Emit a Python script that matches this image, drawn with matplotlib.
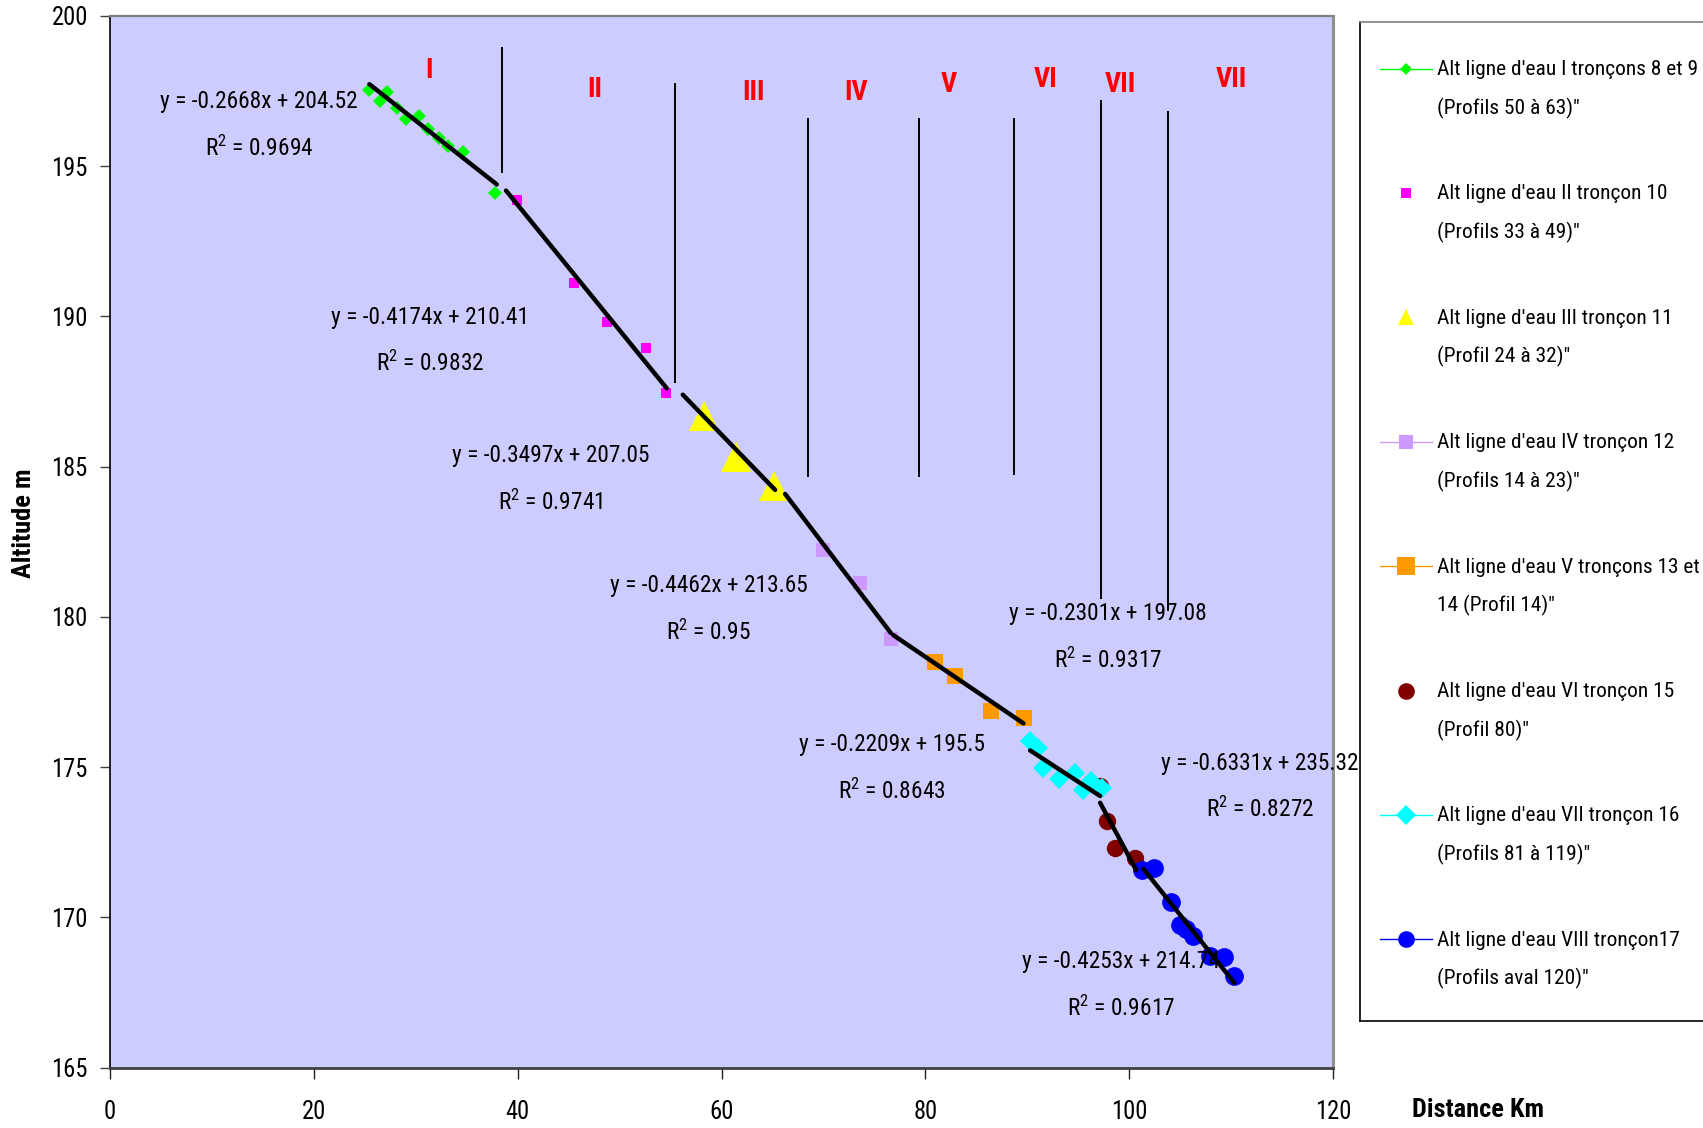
import matplotlib
matplotlib.use('Agg')
import matplotlib.pyplot as plt
from matplotlib import font_manager
from matplotlib.lines import Line2D

_installed = {f.name for f in font_manager.fontManager.ttflist}
_cands = ['Liberation Sans Narrow', 'Roboto Condensed', 'Open Sans Condensed',
          'DejaVu Sans Condensed', 'Liberation Sans', 'DejaVu Sans']
MAIN = [c for c in _cands if c in _installed][0]
FONT = [MAIN, 'DejaVu Sans']
plt.rcParams['font.family'] = FONT

# ---------------- data ----------------
km_I = [25.45, 26.5, 27.15, 28.13, 29.02, 30.35, 31.24, 32.29, 33.2, 34.67, 37.78]
alt_I = [197.54, 197.18, 197.48, 196.93, 196.56, 196.67, 196.23, 195.93, 195.68, 195.49, 194.10]
km_II = [39.91, 45.56, 48.80, 52.57, 54.53]
alt_II = [193.86, 191.13, 189.80, 188.94, 187.45]
km_III = [58.29, 61.43, 65.16]
alt_III = [186.69, 185.31, 184.36]
km_IV = [69.94, 73.60, 76.64]
alt_IV = [182.24, 181.13, 179.26]
km_V = [80.96, 82.92, 86.46, 89.70]
alt_V = [178.49, 178.02, 176.86, 176.62]
km_VI = [97.15, 97.87, 98.63, 100.59]
alt_VI = [174.36, 173.20, 172.31, 171.98]
km_VII = [90.28, 91.10, 91.59, 93.16, 94.70, 95.45, 96.24, 97.32]
alt_VII = [175.86, 175.64, 174.97, 174.61, 174.81, 174.25, 174.53, 174.31]
km_VIII = [101.24, 102.45, 104.09, 105.0, 105.6, 106.31, 107.95, 109.26, 110.33]
alt_VIII = [171.59, 171.65, 170.50, 169.76, 169.6, 169.37, 168.71, 168.69, 168.04]

series_labels = [
    ("Alt ligne d'eau I tronçons 8 et 9", "(Profils 50 à 63)\""),
    ("Alt ligne d'eau II tronçon 10", "(Profils 33 à 49)\""),
    ("Alt ligne d'eau III tronçon 11", "(Profil 24 à 32)\""),
    ("Alt ligne d'eau IV tronçon 12", "(Profils 14 à 23)\""),
    ("Alt ligne d'eau V tronçons 13 et", "14 (Profil 14)\""),
    ("Alt ligne d'eau VI tronçon 15", "(Profil 80)\""),
    ("Alt ligne d'eau VII tronçon 16", "(Profils 81 à 119)\""),
    ("Alt ligne d'eau VIII tronçon17", "(Profils aval 120)\""),
]

# linear trendlines (slope, intercept, x range)
trend_slope = [-0.2668, -0.4174, -0.3497, -0.4462, -0.2301, -0.2209, -0.6331, -0.4253]
trend_icpt = [204.52, 210.41, 207.05, 213.65, 197.08, 195.5, 235.32, 214.74]
trend_from = [25.45, 38.86, 56.2, 66.24, 76.84, 90.28, 97.15, 101.4]
trend_to = [37.95, 54.63, 65.26, 76.61, 89.63, 97.15, 100.69, 110.33]
trend_r2 = ["0.9694", "0.9832", "0.9741", "0.95", "0.9317", "0.8643", "0.8272", "0.9617"]
eq_km = [14.6, 31.44, 43.27, 58.72, 97.89, 76.73, 112.86, 99.2]
eq_alt = [196.94, 189.75, 185.16, 180.82, 179.91, 175.54, 174.92, 168.30]
r2_alt = [195.35, 188.19, 183.57, 179.23, 178.30, 173.95, 173.33, 166.71]

# section separators and names
sep_km = [38.5, 55.45, 68.5, 79.35, 88.67, 97.26, 103.85]
sep_top = [198.96, 197.78, 196.62, 196.62, 196.62, 197.22, 196.85]
sep_bottom = [194.79, 187.80, 184.67, 184.67, 184.73, 180.6, 180.2]
sec_names = ["I", "II", "III", "IV", "V", "VI", "VII", "VII"]
sec_km = [31.3, 47.6, 63.16, 73.2, 82.26, 91.8, 99.12, 110.0]
sec_alt = [198.2, 197.56, 197.44, 197.44, 197.72, 197.9, 197.72, 197.9]

x_ticks = [0, 20, 40, 60, 80, 100, 120]
y_ticks = [165, 170, 175, 180, 185, 190, 195, 200]

# ---------------- styles ----------------
styles = [
    dict(color='#00FF00', marker='D', ms=7.0, leg_ms=6.5, leg_line=True),
    dict(color='#FF00FF', marker='s', ms=7.4, leg_ms=7.5, leg_line=False),
    dict(color='#FFFF00', marker='^', ms=22, leg_ms=12, leg_line=False),
    dict(color='#CC99FF', marker='s', ms=9.4, leg_ms=9.5, leg_line=True),
    dict(color='#FF9900', marker='s', ms=12, leg_ms=13, leg_line=True),
    dict(color='#800000', marker='o', ms=12.5, leg_ms=12, leg_line=False),
    dict(color='#00FFFF', marker='D', ms=10, leg_ms=10.5, leg_line=True),
    dict(color='#0000FF', marker='o', ms=13.5, leg_ms=12, leg_line=True),
]
series = [(km_I, alt_I), (km_II, alt_II), (km_III, alt_III), (km_IV, alt_IV),
          (km_V, alt_V), (km_VI, alt_VI), (km_VII, alt_VII), (km_VIII, alt_VIII)]

W, H = 1703, 1128
fig = plt.figure(figsize=(W / 100, H / 100), dpi=100)
fig.patch.set_facecolor('white')
renderer = fig.canvas.get_renderer()


def fit_size(s, target_px, weight='normal', cap=None):
    t = fig.text(0, 0, s, fontsize=10, fontweight=weight)
    w = t.get_window_extent(renderer=renderer).width
    t.remove()
    size = 10.0 * target_px / w
    if cap is not None:
        size = min(size, cap)
    return size


FS_LEG = fit_size("Alt ligne d'eau I tronçons 8 et 9", 259, cap=19)
FS_EQ = fit_size("y = -0.2668x + 204.52", 196, cap=19)
FS_TICK = min(19.0, 0.5 * (fit_size("200", 32) + 19.5))
FS_SEC = min(22.0, 0.5 * (fit_size("VII", 27, weight='bold') + 23))
FS_TITLE = fit_size("Distance Km", 132, weight='bold', cap=21)

ax = fig.add_axes([110 / W, 1 - 1067.6 / H, (1333 - 110) / W, (1067.6 - 16) / H])
ax.set_facecolor('#CCCCFF')
ax.set_xlim(0, 120)
ax.set_ylim(165, 200)
ax.set_xticks(x_ticks)
ax.set_yticks(y_ticks)
ax.tick_params(axis='y', direction='out', length=7, width=1, pad=9, labelsize=FS_TICK, color='#404040')
ax.tick_params(axis='x', direction='out', length=8, width=1, pad=15.5, labelsize=FS_TICK, color='#202020')
ax.spines['top'].set_color('#808080')
ax.spines['top'].set_linewidth(1.6)
ax.spines['right'].set_color('#909090')
ax.spines['right'].set_linewidth(2.2)
ax.spines['bottom'].set_color('#404040')
ax.spines['bottom'].set_linewidth(2.0)
ax.spines['left'].set_color('black')
ax.spines['left'].set_linewidth(1.2)

# separators
for xk, yt, yb in zip(sep_km, sep_top, sep_bottom):
    ax.plot([xk, xk], [yb, yt], color='black', lw=1.4, zorder=2, solid_capstyle='butt')

for name, xk, yk in zip(sec_names, sec_km, sec_alt):
    ax.text(xk, yk, name, color='#FF0000', fontsize=FS_SEC, fontweight='bold',
            ha='center', va='center', zorder=6)

# series markers
for (xs, ys), st in zip(series, styles):
    ax.plot(xs, ys, linestyle='none', marker=st['marker'], ms=st['ms'],
            color=st['color'], mec=st['color'], mew=0, zorder=3)

# trendlines
for a, b, x0, x1 in zip(trend_slope, trend_icpt, trend_from, trend_to):
    ax.plot([x0, x1], [a * x0 + b, a * x1 + b], color='black', lw=3.2,
            solid_capstyle='round', zorder=5)

# equations
for a, b, r2, xk, ye, yr in zip(trend_slope, trend_icpt, trend_r2, eq_km, eq_alt, r2_alt):
    eq = "y = %sx + %s" % (("%g" % a), ("%g" % b))
    ax.text(xk, ye, eq, fontsize=FS_EQ, ha='center', va='baseline', zorder=6, clip_on=False)
    ax.text(xk, yr, r'R$^\mathregular{2}$ = ' + r2, fontsize=FS_EQ, ha='center',
            va='baseline', zorder=6, clip_on=False)

# axis titles
fig.text(24 / W, 1 - 523 / H, "Altitude m", rotation=90, fontsize=FS_TITLE,
         fontweight='bold', ha='center', va='center')
fig.text(1478 / W, 1 - 1110 / H, "Distance Km", fontsize=FS_TITLE,
         fontweight='bold', ha='center', va='center')

# legend (custom panel: marker aligned with first text line)
lx0, lx1, ly0, ly1 = 1360, 1725, 21.7, 1021
lax = fig.add_axes([lx0 / W, 1 - ly1 / H, (lx1 - lx0) / W, (ly1 - ly0) / H])
lax.set_xlim(lx0, lx1)
lax.set_ylim(ly1, ly0)
lax.set_xticks([])
lax.set_yticks([])
lax.set_facecolor('white')
for sp in lax.spines.values():
    sp.set_color('black')
    sp.set_linewidth(1.2)
lax.spines['top'].set_color('#808080')
for i, ((l1, l2), st) in enumerate(zip(series_labels, styles)):
    base = 75 + 124.4 * i
    my = base - 6.5
    if st['leg_line']:
        lax.add_line(Line2D([1380, 1432], [my, my], color=st['color'], lw=1.0))
    lax.add_line(Line2D([1406], [my], linestyle='none', marker=st['marker'],
                        ms=st['leg_ms'], color=st['color'], mew=0))
    lax.text(1437, base, l1, fontsize=FS_LEG, ha='left', va='baseline', clip_on=False)
    lax.text(1437, base + 39, l2, fontsize=FS_LEG, ha='left', va='baseline', clip_on=False)

fig.savefig('out.png', dpi=100, facecolor='white')
